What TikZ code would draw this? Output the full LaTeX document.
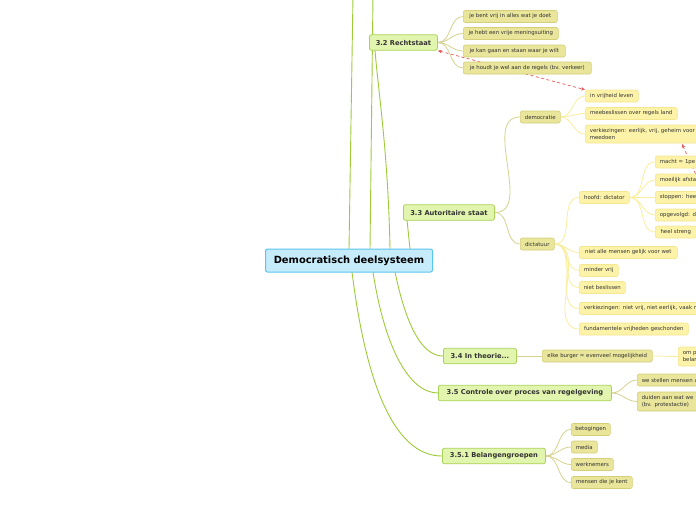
\documentclass[tikz,border=0pt]{standalone}
\usepackage{fontspec}
\setmainfont{DejaVu Sans}
\usetikzlibrary{arrows.meta}
\pgfdeclarelayer{bg}
\pgfdeclarelayer{lines}
\pgfsetlayers{bg,lines,main}
\definecolor{rootfill}{HTML}{C6ECFB}
\definecolor{rootdraw}{HTML}{5AC5EF}
\definecolor{greenfill}{HTML}{E2F5AE}
\definecolor{greendraw}{HTML}{A9D356}
\definecolor{olivefill}{HTML}{E9E59B}
\definecolor{olivedraw}{HTML}{D5CF7A}
\definecolor{yelfill}{HTML}{FCF3A8}
\definecolor{yeldraw}{HTML}{F5E690}
\definecolor{mainline}{HTML}{9FCB3A}
\definecolor{oliveline}{HTML}{D6D28E}
\definecolor{yelline}{HTML}{FAEE9E}
\definecolor{txt}{HTML}{333333}
\definecolor{redline}{HTML}{E8585A}
\begin{document}
\begin{tikzpicture}[x=1pt,y=-1pt,
  every node/.style={text=txt, inner ysep=0pt, rounded corners=2pt},
  rootbox/.style={draw=rootdraw, fill=rootfill, line width=1pt, font=\bfseries\fontsize{9.9}{11}\selectfont, text=black, minimum height=23pt, anchor=west, inner xsep=0pt},
  mainbox/.style={draw=greendraw, fill=greenfill, line width=0.8pt, font=\bfseries\fontsize{6.7}{8}\selectfont, minimum height=15.5pt, anchor=west, inner xsep=0pt},
  olivebox/.style={draw=olivedraw, fill=olivefill, line width=0.6pt, font=\fontsize{5.4}{6.4}\selectfont, minimum height=12pt, anchor=west, inner xsep=0pt},
  yelbox/.style={draw=yeldraw, fill=yelfill, line width=0.6pt, font=\fontsize{5.4}{6.4}\selectfont, minimum height=12pt, anchor=west, inner xsep=0pt},
  cutbox/.style={text width=200pt, align=left, inner xsep=4.5pt},
  mline/.style={draw=mainline, line width=0.9pt},
  oline/.style={draw=oliveline, line width=0.8pt},
  yline/.style={draw=yelline, line width=0.8pt},
  redarrow/.style={draw=redline, line width=0.7pt, dash pattern=on 3pt off 2.5pt, {Stealth[length=4pt,width=3.5pt]}-{Stealth[length=4pt,width=3.5pt]}},
]
\useasboundingbox (0,0) rectangle (696,520);
\begin{pgfonlayer}{bg}
\fill[white] (0,0) rectangle (696,520);
\end{pgfonlayer}
\clip (0,0) rectangle (696,520);

% free ends of root connectors
\coordinate (t1a) at (349,249);
\coordinate (t1b) at (353,-5);
\coordinate (t2a) at (370,249);
\coordinate (t2b) at (373,-5);
\coordinate (s32) at (390,249);
\coordinate (s33) at (410,249);
\coordinate (s34) at (395,272);
\coordinate (s35) at (373,272);
\coordinate (s351) at (352,272);
\coordinate (e32) at (375,50);
\coordinate (e33) at (407,220);
\coordinate (ar2a) at (682,144);
\coordinate (ar2b) at (702,188);

% root
\node[rootbox, minimum width=167pt] (root) at (265,260.5) {Democratisch deelsysteem};

% main branches
\node[mainbox, minimum width=68pt] (r32) at (369,42.5) {3.2 Rechtstaat};
\node[mainbox, minimum width=91pt] (r33) at (403,212.5) {3.3 Autoritaire staat};
\node[mainbox, minimum width=73pt] (r34) at (443,356) {3.4 In theorie...};
\node[mainbox, minimum width=173pt] (r35) at (438,393) {3.5 Controle over proces van regelgeving};
\node[mainbox, minimum width=103pt] (r351) at (442,456) {3.5.1 Belangengroepen};

% olive children
\node[olivebox, minimum width=94pt] (a1) at (463,16.5) {je bent vrij in alles wat je doet};
\node[olivebox, minimum width=95pt] (a2) at (463,33.5) {je hebt een vrije meningsuiting};
\node[olivebox, minimum width=102pt] (a3) at (463,51) {je kan gaan en staan waar je wilt};
\node[olivebox, minimum width=128pt] (a4) at (463,68) {je houdt je wel aan de regels (bv. verkeer)};
\node[olivebox, minimum width=40pt] (dem) at (520,117) {democratie};
\node[olivebox, minimum width=34pt] (dic) at (520,244) {dictatuur};
\node[olivebox, minimum width=110pt] (elk) at (542,356) {elke burger = evenveel mogelijkheid};
\node[olivebox, cutbox] (we) at (637,380) {we stellen mensen a};
\node[olivebox, cutbox, minimum height=19pt] (dui) at (637,401.5) {duiden aan wat we\\(bv. protestactie)};
\node[olivebox, minimum width=39pt] (bet) at (571,429.5) {betogingen};
\node[olivebox, minimum width=26pt] (med) at (571,447) {media};
\node[olivebox, minimum width=42pt] (wer) at (571,464.5) {werknemers};
\node[olivebox, minimum width=61pt] (men) at (571,482.5) {mensen die je kent};

% yellow children
\node[yelbox, minimum width=53pt] (dv1) at (585,96) {in vrijheid leven};
\node[yelbox, minimum width=92pt] (dv2) at (585,113.5) {meebeslissen over regels land};
\node[yelbox, cutbox, minimum height=18pt] (dv3) at (585,134) {verkiezingen: eerlijk, vrij, geheim voor\\meedoen};
\node[yelbox, minimum width=50pt] (hd) at (579,197.5) {hoofd: dictator};
\node[yelbox, cutbox] (h1) at (655,162) {macht = 1pe};
\node[yelbox, cutbox] (h2) at (655,180) {moeilijk afsta};
\node[yelbox, cutbox] (h3) at (655,197.5) {stoppen: hee};
\node[yelbox, cutbox] (h4) at (655,215) {opgevolgd: d};
\node[yelbox, minimum width=41pt] (h5) at (655,232) {heel streng};
\node[yelbox, minimum width=98pt] (d1) at (579,252.5) {niet alle mensen gelijk voor wet};
\node[yelbox, minimum width=39pt] (d2) at (579,270.5) {minder vrij};
\node[yelbox, minimum width=46pt] (d3) at (579,287.5) {niet beslissen};
\node[yelbox, cutbox] (d4) at (579,308.5) {verkiezingen: niet vrij, niet eerlijk, vaak n};
\node[yelbox, minimum width=109pt] (d5) at (579,329) {fundamentele vrijheden geschonden};
\node[yelbox, cutbox, minimum height=19pt] (om) at (678,356.5) {om p\\belan};

\begin{pgfonlayer}{lines}
% connectors from root
\draw[mline] (t1a) -- (t1b);
\draw[mline] (t2a) -- (t2b);
\draw[mline] (s32) .. controls (388,150) and (378,90) .. (e32);
\draw[mline] (s33) -- (e33);
\draw[mline] (s34) .. controls (405,320) and (420,356) .. (r34.west);
\draw[mline] (s35) .. controls (385,350) and (410,393) .. (r35.west);
\draw[mline] (s351) .. controls (368,400) and (400,456) .. (r351.west);
% child connectors
\foreach \c in {a1,a2,a3,a4} \draw[oline] (r32.east) to[out=0,in=180] (\c.west);
\foreach \c in {dem,dic} \draw[oline] (r33.east) to[out=0,in=180] (\c.west);
\draw[oline] (r34.east) -- (elk.west);
\foreach \c in {we,dui} \draw[oline] (r35.east) to[out=0,in=180] (\c.west);
\foreach \c in {bet,med,wer,men} \draw[oline] (r351.east) to[out=0,in=180] (\c.west);
\foreach \c in {dv1,dv2,dv3} \draw[yline] (dem.east) to[out=0,in=180] (\c.west);
\foreach \c in {hd,d1,d2,d3,d4,d5} \draw[yline] (dic.east) to[out=0,in=180] (\c.west);
\foreach \c in {h1,h2,h3,h4,h5} \draw[yline] (hd.east) to[out=0,in=180] (\c.west);
\draw[yline] (elk.east) -- (om.west);
% relation arrows
\draw[redarrow] (r32.south east) -- (dv1.north west);
\draw[redarrow] (ar2a) -- (ar2b);
\end{pgfonlayer}
\end{tikzpicture}
\end{document}
